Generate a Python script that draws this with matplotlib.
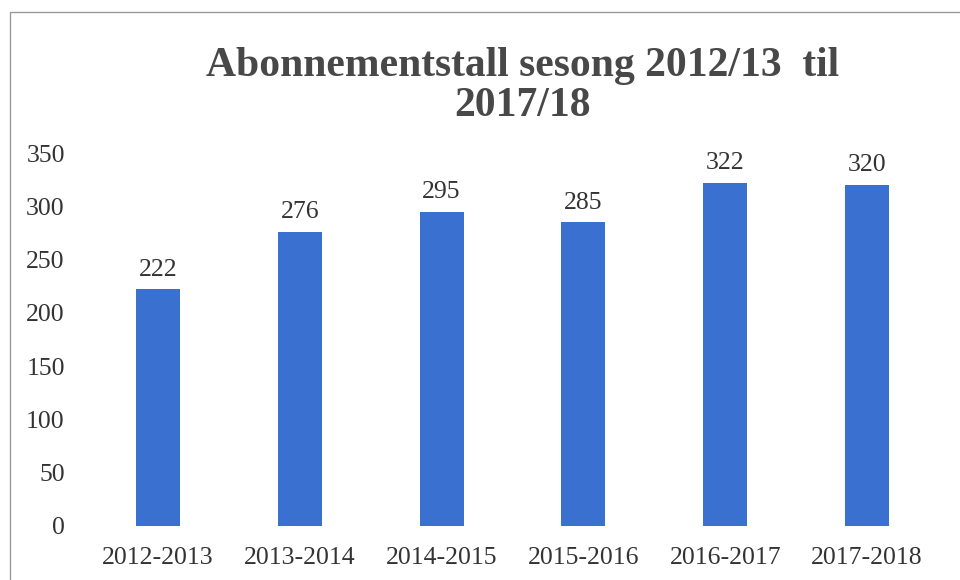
import matplotlib
matplotlib.use("Agg")
import matplotlib.pyplot as plt
from matplotlib.patches import Rectangle

seasons = ["2012-2013", "2013-2014", "2014-2015", "2015-2016", "2016-2017", "2017-2018"]
subscribers = [222, 276, 295, 285, 322, 320]
yticks = [0, 50, 100, 150, 200, 250, 300, 350]
title = "Abonnementstall sesong 2012/13  til\n2017/18"

plt.rcParams["font.family"] = ["Liberation Serif", "DejaVu Serif"]
text_color = "#333333"
bar_color = "#3a70cf"

fig = plt.figure(figsize=(9.6, 5.8), dpi=100)
fig.patches.append(Rectangle((10/960, -0.1), 1.2, 1 + 0.1 - 12/580, transform=fig.transFigure,
                             fill=False, edgecolor="#9a9a9a", linewidth=1.0))

ax = fig.add_axes([87/960, 54/580, (938-87)/960, (526-153)/580])
x = range(len(seasons))
bars = ax.bar(x, subscribers, width=0.31, color=bar_color)
for xi, v in zip(x, subscribers):
    ax.text(xi, v + 8, str(v), ha="center", va="bottom", fontsize=18.5, color=text_color)

ax.set_xlim(-0.5, len(seasons) - 0.5)
ax.set_ylim(0, 350)
ax.set_yticks(yticks)
ax.set_yticklabels([str(t) for t in yticks], fontsize=18.5, color=text_color)
ax.set_xticks(list(x))
ax.set_xticklabels(seasons, fontsize=18.5, color=text_color)
ax.tick_params(axis="both", length=0)
ax.tick_params(axis="y", pad=16)
ax.tick_params(axis="x", pad=15)
for s in ax.spines.values():
    s.set_visible(False)

fig.text(523/960, 1 - 86/580, title, ha="center", va="center", fontsize=30,
         fontweight="bold", color="#484848", linespacing=1.1)

fig.savefig("out.png", dpi=100)
